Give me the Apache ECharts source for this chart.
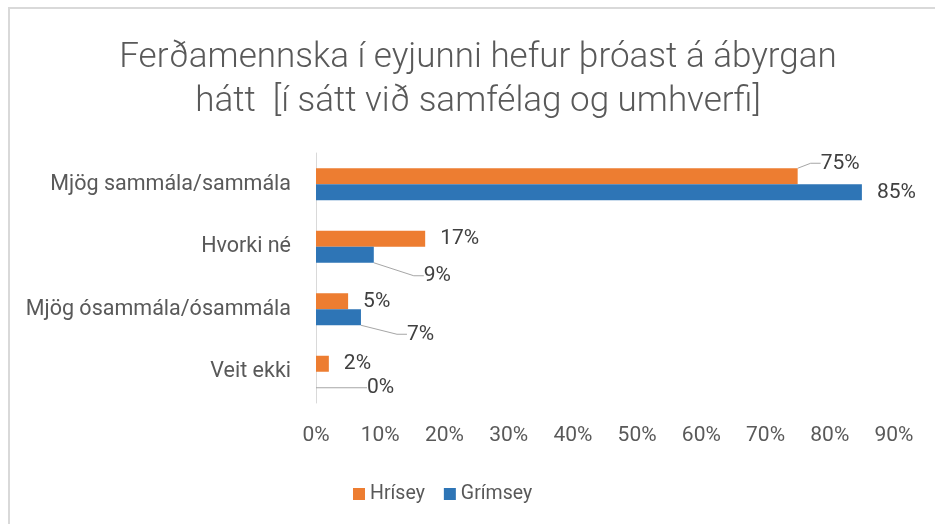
<!DOCTYPE html>
<html>
<head>
<meta charset="utf-8">
<script src="https://cdn.jsdelivr.net/npm/echarts@6/dist/echarts.min.js"></script>
<style>
  html, body { margin: 0; padding: 0; background: #fff; }
  #chart { width: 935px; height: 524px; }
</style>
</head>
<body>
<div id="chart"></div>
<script>
const categories = [
    "Mjög sammála/sammála",
    "Hvorki né",
    "Mjög ósammála/ósammála",
    "Veit ekki",
];
const series_names = ["Hrísey", "Grímsey"];
const hrisey = [75, 17, 5, 2];
const grimsey = [85, 9, 7, 0];
const tick_max = 90;

// labels pulled away from their bar with a leader line: per series, dataIndex -> [dx, dy]
const moved_labels = [
    { 0: [8, -13] },
    { 1: [35, 21], 2: [31, 17], 3: [36, 8] },
];

const FONT = "Roboto";
const chart = echarts.init(document.getElementById("chart"), null, { renderer: "canvas" });

function label_layout(params) {
    const off = moved_labels[params.seriesIndex]?.[params.dataIndex];
    if (!off) return {};
    const r = params.labelRect;
    return { x: r.x + off[0], y: r.y + off[1] };
}

function bar_series(idx, values, color) {
    const moved = moved_labels[idx];
    return {
        name: series_names[idx],
        type: "bar",
        // leader line only on the labels that were moved
        data: values.map((v, i) =>
            moved[i] ? { value: v, labelLine: { show: true } } : { value: v }
        ),
        barWidth: 16,
        barGap: "0%",
        itemStyle: { color },
        label: {
            show: true,
            position: "right",
            distance: 15,
            formatter: "{c}%",
            fontFamily: FONT,
            fontSize: 21,
            color: "#404040",
        },
        labelLine: {
            show: false,
            length2: 10,
            lineStyle: { color: "#A6A6A6", width: 1 },
        },
        labelLayout: label_layout,
    };
}

chart.setOption({
    animation: false,
    backgroundColor: "#fff",
    graphic: [
        {
            type: "rect",
            shape: { x: 9, y: 8, width: 960, height: 560 },
            style: { fill: "none", stroke: "#D9D9D9", lineWidth: 2 },
            silent: true,
        },
    ],
    title: {
        text: "Ferðamennska í eyjunni hefur þróast á ábyrgan\nhátt  [í sátt við samfélag og umhverfi]",
        left: 478,
        top: 36,
        padding: 0,
        textAlign: "center",
        textStyle: {
            fontFamily: FONT,
            fontSize: 35,
            fontWeight: 300,
            lineHeight: 44,
            color: "#595959",
        },
    },
    legend: {
        left: 348,
        top: 479,
        itemWidth: 12,
        itemHeight: 12,
        itemGap: 19,
        icon: "rect",
        textStyle: { fontFamily: FONT, fontSize: 19.5, color: "#595959" },
        data: series_names,
    },
    grid: { left: 316, top: 153, width: 578, height: 250, containLabel: false },
    xAxis: {
        type: "value",
        min: 0,
        max: tick_max,
        interval: 10,
        axisLine: { show: false },
        axisTick: { show: false },
        splitLine: { show: false },
        axisLabel: {
            formatter: "{value}%",
            fontFamily: FONT,
            fontSize: 21,
            color: "#595959",
            margin: 22,
        },
    },
    yAxis: {
        type: "category",
        data: categories,
        inverse: true,
        axisLine: { show: true, lineStyle: { color: "#D9D9D9", width: 1 } },
        axisTick: { show: false },
        axisLabel: {
            fontFamily: FONT,
            fontSize: 21.5,
            color: "#595959",
            margin: 25,
        },
    },
    series: [
        bar_series(0, hrisey, "#ED7D31"),
        bar_series(1, grimsey, "#2E75B6"),
    ],
});
</script>
</body>
</html>
